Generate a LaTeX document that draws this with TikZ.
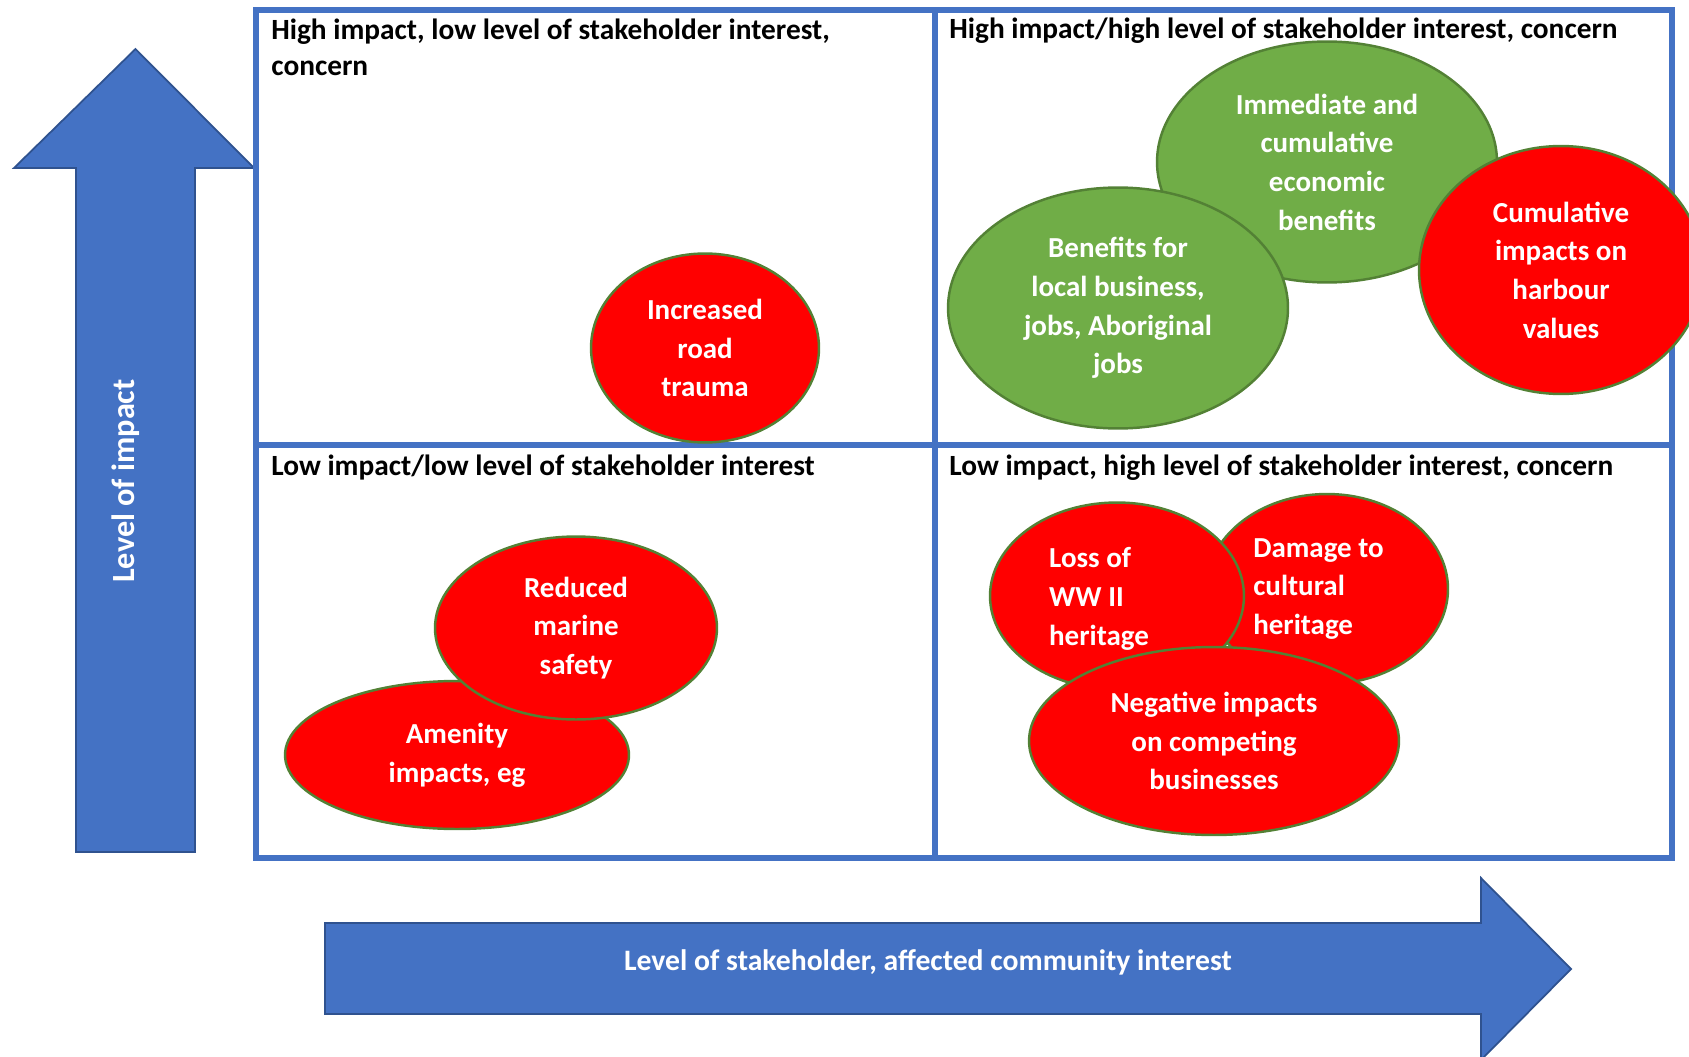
\documentclass[tikz,border=0pt]{standalone}
\usepackage{fontspec}
\setmainfont{Carlito}
\usepackage{tikz}
\usetikzlibrary{shapes.geometric}
\definecolor{frameblue}{HTML}{4472C4}
\definecolor{edgeblue}{HTML}{2F528F}
\definecolor{riskred}{HTML}{FF0000}
\definecolor{gaingreen}{HTML}{70AD47}
\definecolor{rimgreen}{HTML}{538135}

\begin{document}
\begin{tikzpicture}
    [x=0.02cm, y=-0.02cm,
 quad/.style ={anchor=base west, align=left, inner sep=0pt, font=\fontsize{16.7}{21}\selectfont\bfseries},
 risk/.style ={ellipse, draw=rimgreen, line width=1.4pt, fill=riskred, text=white, align=center, inner sep=0pt, font=\fontsize{16.5}{22}\selectfont\bfseries},
 gain/.style ={risk, fill=gaingreen},
 inside/.style ={text=white, align=left, inner sep=0pt, font=\fontsize{16.5}{22}\selectfont\bfseries},
 axis/.style ={draw=edgeblue, line width=1pt, fill=frameblue},
 axislabel/.style ={text=white, inner sep=0pt, font=\fontsize{16.9}{21}\selectfont\bfseries},
 grid/.style ={draw=frameblue, line width=3.4pt}]
    \useasboundingbox (0,0) rectangle (1689,1057);
    % axes
    \draw[axis] (76,852) -- (76,168) -- (14,168) -- (135.5,49) -- (254,168) -- (195,168) -- (195,852) -- cycle;
    \node[axislabel, rotate=90, font=\fontsize{18.4}{22}\selectfont\bfseries] (impact) at (126,481) {Level of impact};
    \draw[axis] (325,923) -- (1481,923) -- (1481,878) -- (1571,969) -- (1481,1060) -- (1481,1014) -- (325,1014) -- cycle;
    \node[axislabel] (interest) at (928,962) {Level of stakeholder, affected community interest};
    % quadrants
    \draw[grid] (256,10) rectangle (1672,858);
    \draw[grid] (935,10) -- (935,858);
    \draw[grid] (256,445) -- (1672,445);
        \node[quad] (hilo) at (271,76) {High impact, low level of stakeholder interest,\\concern};
        \node[quad] (hihi) at (949,39) {High impact/high level of stakeholder interest, concern};
        \node[quad] (lolo) at (271,475) {Low impact/low level of stakeholder interest};
        \node[quad] (lohi) at (949,475) {Low impact, high level of stakeholder interest, concern};
    % issues
        \node[risk, minimum width=4.56cm, minimum height=3.78cm] (road) at (705,348) {Increased\\road\\trauma};
        \node[gain, minimum width=6.8cm, minimum height=4.82cm] (economic) at (1327,162) {Immediate and\\cumulative\\economic\\benefits};
        \node[gain, minimum width=6.8cm, minimum height=4.82cm] (local) at (1118,308) {Benefits for\\local business,\\jobs, Aboriginal\\jobs};
        \node[risk, minimum width=5.68cm, minimum height=4.96cm] (harbour) at (1561,270) {Cumulative\\impacts on\\harbour\\values};
        \node[risk, minimum width=6.88cm, minimum height=2.96cm] (amenity) at (457,755) {Amenity\\impacts, eg};
        \node[risk, minimum width=5.64cm, minimum height=3.66cm] (marine) at (576,628) {Reduced\\marine\\safety};
        \node[risk, minimum width=4.84cm, minimum height=3.8cm] (cultural) at (1327,589) {};
        \node[inside] (culturaltext) at ([xshift=-0.17cm]cultural.center) {Damage to\\cultural\\heritage};
        \node[risk, minimum width=5.08cm, minimum height=3.74cm] (wwii) at (1117,596) {};
        \node[inside] (wwiitext) at ([xshift=-0.36cm, yshift=-0.06cm]wwii.center) {Loss of\\WW II\\heritage};
        \node[risk, minimum width=7.4cm, minimum height=3.76cm] (competing) at (1214,741) {Negative impacts\\on competing\\businesses};
    \end{tikzpicture}
\end{document}
